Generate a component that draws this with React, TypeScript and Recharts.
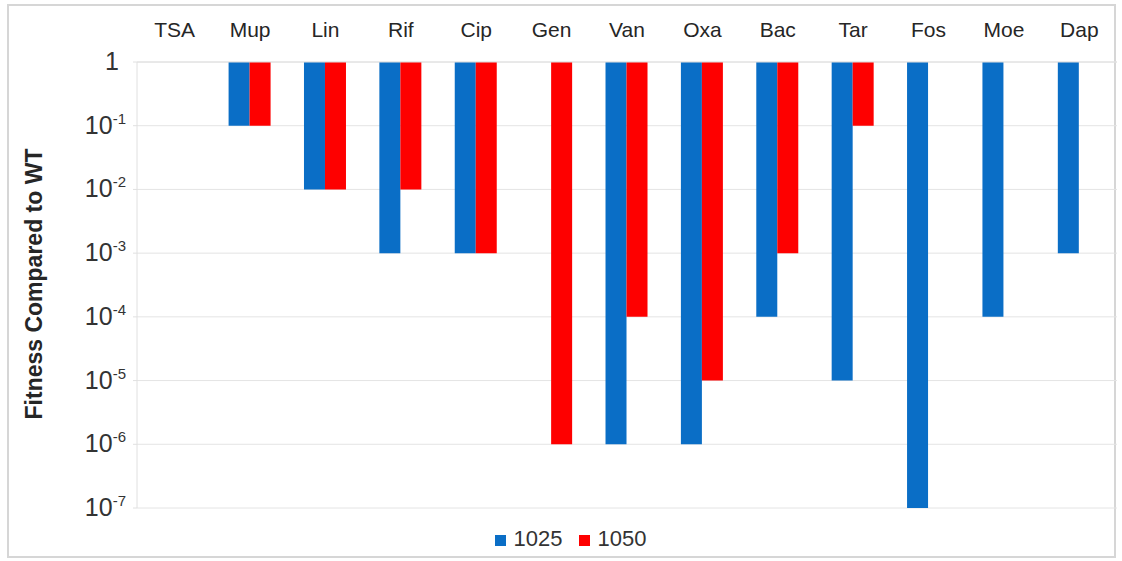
import React from "react";
import { BarChart, Bar, XAxis, YAxis, CartesianGrid, Legend } from "recharts";

const categories = ["TSA", "Mup", "Lin", "Rif", "Cip", "Gen", "Van", "Oxa", "Bac", "Tar", "Fos", "Moe", "Dap"];
const fitness1025: (number | null)[] = [1, 0.1, 0.01, 0.001, 0.001, null, 1e-6, 1e-6, 1e-4, 1e-5, 1e-7, 1e-4, 1e-3];
const fitness1050: (number | null)[] = [1, 0.1, 0.01, 0.01, 0.001, 1e-6, 1e-4, 1e-5, 1e-3, 0.1, null, null, null];
const yTicks = [1, 0.1, 0.01, 0.001, 1e-4, 1e-5, 1e-6, 1e-7];
const yTickExponents = ["", "-1", "-2", "-3", "-4", "-5", "-6", "-7"];
const seriesNames = ["1025", "1050"];

const data = categories.map((c, i) => ({
  name: c,
  s1025: fitness1025[i],
  s1050: fitness1050[i],
}));

const FONT = '"Liberation Sans", Arial, sans-serif';

const YTick = (props: any) => {
  const { y, payload } = props;
  const idx = yTicks.indexOf(payload.value);
  const exp = idx >= 0 ? yTickExponents[idx] : "";
  return (
    <text x={exp ? 126 : 119} y={y} dy={8} textAnchor="end" fill="#333" fontFamily={FONT}>
      {exp ? (
        <>
          <tspan fontSize={25}>10</tspan>
          <tspan fontSize={15} dy={-10}>{exp}</tspan>
        </>
      ) : (
        <tspan fontSize={25}>1</tspan>
      )}
    </text>
  );
};

const XTick = (props: any) => {
  const { x, payload } = props;
  return (
    <text x={x} y={37} textAnchor="middle" fill="#262626" fontSize={21} fontFamily={FONT}>
      {payload.value}
    </text>
  );
};

const YTitle = () => (
  <text
    x={34}
    y={284}
    transform="rotate(-90 34 284)"
    textAnchor="middle"
    dominantBaseline="central"
    fontSize={23}
    fontWeight="bold"
    fill="#262626"
    fontFamily={FONT}
  >
    Fitness Compared to WT
  </text>
);

export default function App() {
  return (
    <div style={{ position: "absolute", left: 0, top: 0, width: 1122, height: 561, background: "#fff" }}>
      <div
        style={{
          position: "absolute",
          left: 7,
          top: 4,
          width: 1109,
          height: 554,
          border: "2px solid #d6d6d6",
          boxSizing: "border-box",
        }}
      />
      <BarChart
        width={1122}
        height={561}
        data={data}
        margin={{ top: 12, right: 5, bottom: 23, left: 0 }}
        barCategoryGap="21.5%"
        barGap={0}
        style={{ position: "absolute", left: 0, top: 0, fontFamily: FONT }}
      >
        <CartesianGrid vertical={false} stroke="#e4e4e4" />
        <XAxis
          dataKey="name"
          orientation="top"
          height={50}
          tick={<XTick />}
          axisLine={{ stroke: "#e0e0e0" }}
          tickLine={false}
          interval={0}
        />
        <YAxis
          type="number"
          scale="log"
          domain={[1e-7, 1]}
          ticks={yTicks}
          allowDataOverflow
          width={137}
          tick={<YTick />}
          axisLine={{ stroke: "#e0e0e0" }}
          tickLine={{ stroke: "#e0e0e0" }}
          tickSize={4}
          interval={0}
          label={<YTitle />}
        />
        <Legend
          verticalAlign="bottom"
          align="center"
          height={30}
          iconType="square"
          iconSize={11}
          wrapperStyle={{ bottom: 5, left: 20, fontFamily: FONT, fontSize: 22 }}
          formatter={(v: any) => (
            <span style={{ color: "#333", marginLeft: 4, marginRight: 6 }}>{v}</span>
          )}
        />
        <Bar
          name={seriesNames[0]}
          dataKey={(d: any) => (d.s1025 == null ? null : [d.s1025, 1])}
          fill="#0a6ec6"
          isAnimationActive={false}
        />
        <Bar
          name={seriesNames[1]}
          dataKey={(d: any) => (d.s1050 == null ? null : [d.s1050, 1])}
          fill="#fe0000"
          isAnimationActive={false}
        />
      </BarChart>
    </div>
  );
}
